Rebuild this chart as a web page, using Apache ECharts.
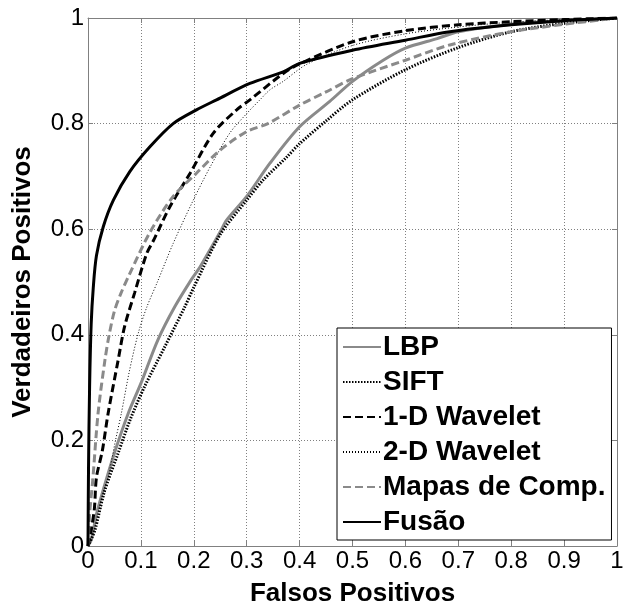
<!DOCTYPE html>
<html>
<head>
<meta charset="utf-8">
<script src="https://cdn.jsdelivr.net/npm/echarts@6/dist/echarts.min.js"></script>
<style>
html,body{margin:0;padding:0;background:#fff;}
#c{width:624px;height:608px;}
</style>
</head>
<body>
<div id="c"></div>
<script>
var seriesNames = ['LBP', 'SIFT', '1-D Wavelet', '2-D Wavelet', 'Mapas de Comp.', 'Fusão'];
var xTicks = [0, 0.1, 0.2, 0.3, 0.4, 0.5, 0.6, 0.7, 0.8, 0.9, 1];
var yTicks = [0, 0.2, 0.4, 0.6, 0.8, 1];

var lbp = [[0,0],[0.006,0.011],[0.016,0.06],[0.025,0.093],[0.05,0.176],[0.076,0.251],[0.1,0.308],[0.132,0.39],[0.164,0.453],[0.195,0.504],[0.212,0.529],[0.25,0.595],[0.262,0.617],[0.30,0.662],[0.344,0.725],[0.40,0.794],[0.457,0.842],[0.5,0.88],[0.558,0.92],[0.6,0.943],[0.66,0.961],[0.7,0.974],[0.8,0.988],[0.9,0.995],[1,1]];
var sift = [[0,0],[0.013,0.03],[0.03,0.1],[0.057,0.176],[0.08,0.24],[0.107,0.302],[0.145,0.377],[0.183,0.453],[0.2,0.49],[0.25,0.59],[0.30,0.655],[0.331,0.693],[0.376,0.737],[0.40,0.762],[0.45,0.805],[0.5,0.845],[0.6,0.902],[0.7,0.944],[0.8,0.974],[0.9,0.99],[1,1]];
var wav1 = [[0,0],[0.006,0.03],[0.012,0.07],[0.016,0.13],[0.027,0.18],[0.038,0.251],[0.057,0.352],[0.069,0.415],[0.088,0.479],[0.111,0.554],[0.124,0.579],[0.155,0.643],[0.193,0.706],[0.237,0.782],[0.281,0.826],[0.306,0.845],[0.369,0.895],[0.40,0.913],[0.5,0.955],[0.6,0.976],[0.7,0.987],[0.8,0.993],[0.9,0.997],[1,1]];
var wav2 = [[0,0],[0.015,0.04],[0.032,0.10],[0.052,0.2],[0.063,0.251],[0.078,0.33],[0.095,0.403],[0.111,0.452],[0.132,0.502],[0.161,0.573],[0.199,0.655],[0.231,0.718],[0.268,0.782],[0.30,0.819],[0.325,0.845],[0.344,0.864],[0.369,0.88],[0.413,0.912],[0.5,0.948],[0.6,0.97],[0.7,0.983],[0.8,0.992],[0.9,0.997],[1,1]];
var mapas = [[0,0],[0.003,0.06],[0.009,0.125],[0.019,0.251],[0.032,0.352],[0.04,0.40],[0.05,0.445],[0.062,0.478],[0.079,0.516],[0.117,0.594],[0.161,0.662],[0.205,0.706],[0.25,0.75],[0.30,0.785],[0.34,0.80],[0.40,0.835],[0.45,0.86],[0.5,0.885],[0.6,0.92],[0.684,0.949],[0.8,0.974],[0.9,0.988],[1,1]];
var fusao = [[0,0],[0.001,0.15],[0.003,0.3],[0.006,0.42],[0.01,0.49],[0.016,0.55],[0.029,0.605],[0.048,0.655],[0.079,0.709],[0.117,0.756],[0.161,0.80],[0.205,0.826],[0.243,0.845],[0.306,0.876],[0.369,0.898],[0.40,0.914],[0.5,0.939],[0.6,0.958],[0.684,0.974],[0.8,0.987],[0.9,0.995],[1,1]];

var FONT = "'Liberation Sans', Arial, sans-serif";
var GRAY = '#808080';
var chart = echarts.init(document.getElementById('c'), null, {renderer: 'canvas'});

function baseX(pos, show) {
  return {
    type: 'value', min: 0, max: 1, interval: 0.1, position: pos,
    axisLine: {show: true, onZero: false, lineStyle: {color: GRAY, width: 1}},
    axisTick: {show: true, inside: true, length: 5, lineStyle: {color: GRAY}},
    axisLabel: {show: show, color: '#000', fontFamily: FONT, fontSize: 24, margin: 3},
    splitLine: {show: show, lineStyle: {color: GRAY, type: [1, 2], width: 1}}
  };
}
function baseY(pos, show) {
  return {
    type: 'value', min: 0, max: 1, interval: 0.2, position: pos,
    axisLine: {show: true, onZero: false, lineStyle: {color: GRAY, width: 1}},
    axisTick: {show: true, inside: true, length: 5, lineStyle: {color: GRAY}},
    axisLabel: {show: show, color: '#000', fontFamily: FONT, fontSize: 24, margin: 4},
    splitLine: {show: show, lineStyle: {color: GRAY, type: [1, 2], width: 1}}
  };
}

var xa = baseX('bottom', true);
xa.name = 'Falsos Positivos';
xa.nameLocation = 'middle';
xa.nameGap = 35;
xa.nameTextStyle = {color: '#000', fontFamily: FONT, fontSize: 26, fontWeight: 'bold'};
var xb = baseX('top', false);

var ya = baseY('left', true);
ya.name = 'Verdadeiros Positivos';
ya.nameLocation = 'middle';
ya.nameGap = 52;
ya.nameTextStyle = {color: '#000', fontFamily: FONT, fontSize: 26, fontWeight: 'bold'};
var yb = baseY('right', false);

var styles = [
  {color: '#8a8a8a', type: 'solid', width: 3},
  {color: '#000', type: [1.5, 1.5], width: 3},
  {color: '#000', type: [8, 4], width: 3},
  {color: '#000', type: [1, 2], width: 1},
  {color: '#8a8a8a', type: [8, 4], width: 3},
  {color: '#000', type: 'solid', width: 3}
];
var datas = [lbp, sift, wav1, wav2, mapas, fusao];

var series = seriesNames.map(function (n, i) {
  return {
    name: n, type: 'line', data: datas[i], showSymbol: false, symbol: 'none',
    smooth: 0.3, xAxisIndex: 0, yAxisIndex: 0,
    itemStyle: {color: styles[i].color},
    lineStyle: {color: styles[i].color, type: styles[i].type, width: styles[i].width},
    emphasis: {disabled: true}, animation: false, z: 2 + i
  };
});

chart.setOption({
  animation: false,
  backgroundColor: '#fff',
  grid: {left: 88, top: 18, right: 7, bottom: 62, containLabel: false, outerBoundsMode: 'none'},
  xAxis: [xa, xb],
  yAxis: [ya, yb],
  legend: {
    orient: 'vertical', left: 337, top: 328,
    data: seriesNames,
    itemWidth: 38, itemHeight: 14, itemGap: 7,
    padding: [5, 6, 4, 5],
    itemStyle: {opacity: 0},
    backgroundColor: '#fff', borderColor: '#000', borderWidth: 1,
    textStyle: {color: '#000', fontFamily: FONT, fontSize: 28, fontWeight: 'bold', lineHeight: 28, padding: [0, 0, 0, -3]},
    selectedMode: false
  },
  series: series
});
</script>
</body>
</html>
